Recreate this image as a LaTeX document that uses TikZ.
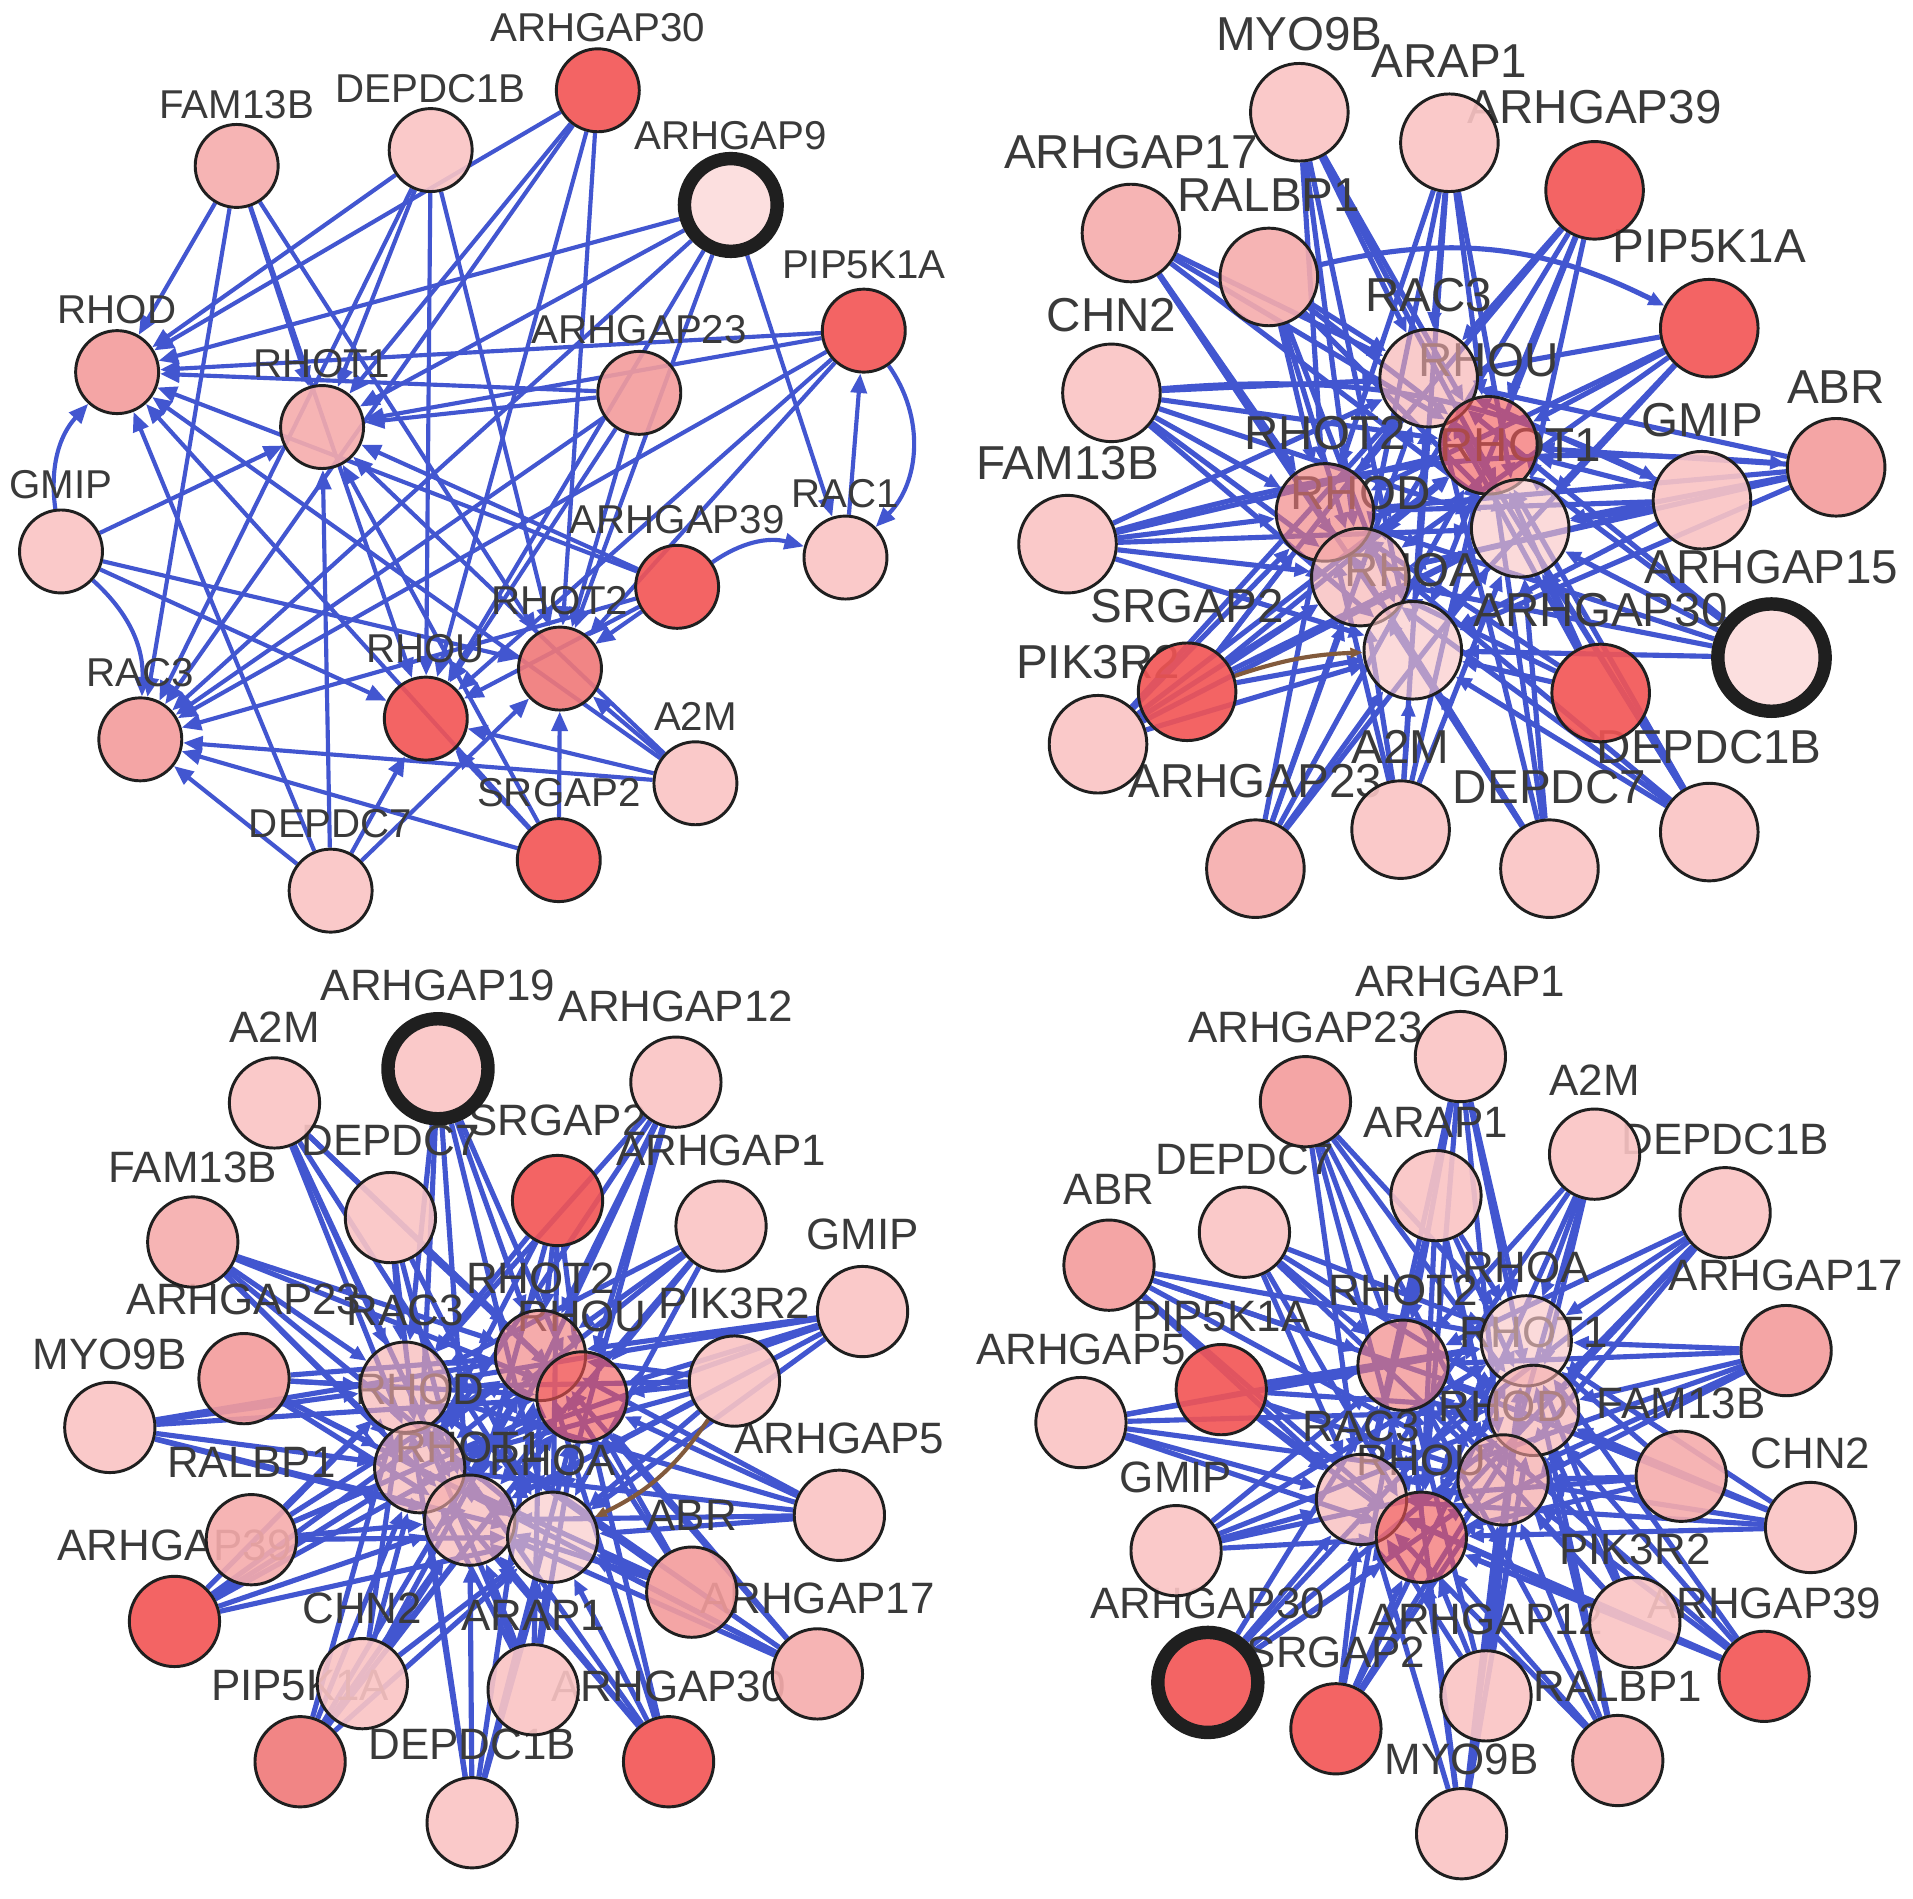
\documentclass[tikz,border=0pt]{standalone}
\usepackage{fontspec}
\setmainfont{Liberation Sans}
\usetikzlibrary{arrows.meta}
\pgfdeclarelayer{bg}
\pgfdeclarelayer{edges}
\pgfdeclarelayer{labels}
\pgfsetlayers{bg,edges,labels,main}
\definecolor{edgeblue}{RGB}{66,86,208}
\definecolor{lp}{RGB}{250,196,196}
\definecolor{vlp}{RGB}{252,220,220}
\definecolor{mp}{RGB}{246,172,172}
\definecolor{mpp}{RGB}{243,156,156}
\definecolor{rd}{RGB}{242,84,84}
\definecolor{rdd}{RGB}{240,120,120}
\definecolor{lblgray}{RGB}{58,58,58}
\definecolor{brownedge}{RGB}{130,90,60}
\newcommand{\gn}[7][]{%
 \node[gnode,fill=#5,#1] (#2) at (#3,#4) {};%
 \begin{pgfonlayer}{labels}\node[glabel] (#2-l) at (#3,#4-#7) {#6};\end{pgfonlayer}}
\tikzset{
 gnode/.style={circle,draw=black!88,line width=2.4pt,inner sep=0pt,minimum size=\nsz,fill opacity=0.9},
 hub/.style={fill opacity=0.62},
 ring/.style={line width=11pt,minimum size=\nsz+8pt},
 glabel/.style={inner sep=0pt,text=lblgray,font=\fontsize{\lfs}{\lfs}\selectfont},
 e1/.style={draw=edgeblue,line width=3.4pt,-{Triangle[length=16pt,width=13pt]}},
 e2/.style={draw=edgeblue,line width=4.2pt,-{Triangle[length=13pt,width=11pt]}},
 be/.style={draw=brownedge,line width=3.4pt,-{Triangle[length=10pt,width=8pt]}},
}
\begin{document}
\begin{tikzpicture}[x=1pt,y=-1pt]
\begin{pgfonlayer}{bg}
\fill[white] (0,0) rectangle (1568,1556);
\end{pgfonlayer}
\useasboundingbox (0,0) rectangle (1568,1556);
% ---------------- panel 1 ----------------
\def\nsz{68pt}\def\lfs{33}
\gn{a-ARHGAP30}{490}{74}{rd}{ARHGAP30}{51}
\gn{a-FAM13B}{194}{136}{mp}{FAM13B}{50}
\gn{a-DEPDC1B}{353}{123}{lp}{DEPDC1B}{50}
\gn[ring]{a-ARHGAP9}{599}{168}{vlp}{ARHGAP9}{57}
\gn{a-PIP5K1A}{708}{271}{rd}{PIP5K1A}{54}
\gn{a-RHOD}{96}{305}{mpp}{RHOD}{51}
\gn{a-RHOT1}{264}{350}{mp}{RHOT1}{52}
\gn{a-ARHGAP23}{524}{322}{mpp}{ARHGAP23}{52}
\gn{a-GMIP}{50}{452}{lp}{GMIP}{55}
\gn{a-RAC1}{693}{457}{lp}{RAC1}{52}
\gn{a-ARHGAP39}{555}{481}{rd}{ARHGAP39}{55}
\gn{a-RHOT2}{459}{548}{rdd}{RHOT2}{56}
\gn{a-RHOU}{349}{589}{rd}{RHOU}{57}
\gn{a-RAC3}{115}{606}{mpp}{RAC3}{55}
\gn{a-A2M}{570}{642}{lp}{A2M}{55}
\gn{a-SRGAP2}{458}{705}{rd}{SRGAP2}{55}
\gn{a-DEPDC7}{271}{730}{lp}{DEPDC7}{55}
\begin{pgfonlayer}{edges}
\foreach \s in {a-ARHGAP30,a-FAM13B,a-DEPDC1B,a-ARHGAP9,a-PIP5K1A,a-ARHGAP23,a-ARHGAP39,a-A2M,a-SRGAP2,a-DEPDC7}
 \foreach \t in {a-RHOD,a-RHOT1,a-RAC3,a-RHOU,a-RHOT2}
  {\draw[e1] (\s) -- (\t);}
\foreach \t in {a-RHOT1,a-RHOU,a-RHOT2}{\draw[e1] (a-GMIP) -- (\t);}
\draw[e1] (a-GMIP) to[bend left=25] (a-RHOD);
\draw[e1] (a-GMIP) to[bend left=25] (a-RAC3);
\draw[e1] (a-ARHGAP39) to[bend left=25] (a-RAC1);
\draw[e1] (a-ARHGAP9) -- (a-RAC1);
\draw[e1] (a-RAC1) -- (a-PIP5K1A);
\draw[e1] (a-PIP5K1A) to[bend left=40] (a-RAC1);
\end{pgfonlayer}
% ---------------- panel 2 ----------------
\def\nsz{80pt}\def\lfs{39}
\gn{b-MYO9B}{1065}{92}{lp}{MYO9B}{64}
\gn{b-ARAP1}{1188}{117}{lp}{ARAP1}{67}
\gn{b-ARHGAP39}{1307}{156}{rd}{ARHGAP39}{68}
\gn{b-ARHGAP17}{927}{191}{mp}{ARHGAP17}{66}
\gn{b-RALBP1}{1040}{227}{mp}{RALBP1}{67}
\gn{b-PIP5K1A}{1401}{269}{rd}{PIP5K1A}{67}
\gn{b-CHN2}{911}{322}{lp}{CHN2}{64}
\gn{b-GMIP}{1395}{410}{lp}{GMIP}{66}
\gn{b-ABR}{1505}{383}{mpp}{ABR}{66}
\gn{b-FAM13B}{875}{446}{lp}{FAM13B}{66}
\gn{b-SRGAP2}{973}{567}{rd}{SRGAP2}{70}
\gn{b-PIK3R2}{900}{610}{lp}{PIK3R2}{67}
\gn{b-ARHGAP30}{1312}{568}{rd}{ARHGAP30}{68}
\gn[ring]{b-ARHGAP15}{1452}{539}{vlp}{ARHGAP15}{74}
\gn{b-DEPDC1B}{1401}{682}{lp}{DEPDC1B}{70}
\gn{b-A2M}{1148}{680}{lp}{A2M}{68}
\gn{b-DEPDC7}{1270}{712}{lp}{DEPDC7}{67}
\gn{b-ARHGAP23}{1029}{712}{mp}{ARHGAP23}{72}
\gn[hub]{b-RAC3}{1171}{310}{mp}{RAC3}{68}
\gn[hub]{b-RHOU}{1220}{365}{rd}{RHOU}{70}
\gn[hub]{b-RHOT1}{1246}{433}{lp}{RHOT1}{68}
\gn[hub]{b-RHOT2}{1086}{420}{rdd}{RHOT2}{65}
\gn[hub]{b-RHOD}{1115}{473}{mp}{RHOD}{69}
\gn[hub]{b-RHOA}{1158}{533}{lp}{RHOA}{66}
\begin{pgfonlayer}{edges}
\foreach \s in {b-MYO9B,b-ARAP1,b-ARHGAP39,b-ARHGAP17,b-RALBP1,b-PIP5K1A,b-CHN2,b-GMIP,b-ABR,b-FAM13B,b-SRGAP2,b-PIK3R2,b-ARHGAP30,b-ARHGAP15,b-DEPDC1B,b-A2M,b-DEPDC7,b-ARHGAP23}
 \foreach \t in {b-RAC3,b-RHOU,b-RHOT1,b-RHOT2,b-RHOD,b-RHOA}
  {\draw[e2] (\s) -- (\t);}
\draw[e2] (b-CHN2) to[bend left=15] (b-GMIP);
\draw[e2] (b-FAM13B) to[bend left=10] (b-ABR);
\draw[e2] (b-RALBP1) to[bend left=20] (b-PIP5K1A);
\draw[be] (b-SRGAP2) to[bend left=8] (b-RHOA);
\end{pgfonlayer}
% ---------------- panel 3 ----------------
\def\nsz{74pt}\def\lfs{36}
\gn{c-A2M}{225}{904}{lp}{A2M}{62}
\gn[ring]{c-ARHGAP19}{359}{876}{lp}{ARHGAP19}{68}
\gn{c-ARHGAP12}{554}{887}{lp}{ARHGAP12}{62}
\gn{c-FAM13B}{158}{1018}{mp}{FAM13B}{61}
\gn{c-DEPDC7}{320}{998}{lp}{DEPDC7}{63}
\gn{c-SRGAP2}{457}{984}{rd}{SRGAP2}{66}
\gn{c-ARHGAP1}{591}{1005}{lp}{ARHGAP1}{62}
\gn{c-GMIP}{707}{1075}{lp}{GMIP}{63}
\gn{c-ARHGAP23}{200}{1130}{mpp}{ARHGAP23}{65}
\gn{c-MYO9B}{90}{1170}{lp}{MYO9B}{60}
\gn{c-PIK3R2}{602}{1132}{lp}{PIK3R2}{64}
\gn{c-RALBP1}{206}{1262}{mp}{RALBP1}{63}
\gn{c-ARHGAP5}{688}{1242}{lp}{ARHGAP5}{63}
\gn{c-ABR}{567}{1305}{mpp}{ABR}{63}
\gn{c-ARHGAP39}{143}{1329}{rd}{ARHGAP39}{62}
\gn{c-ARHGAP17}{670}{1372}{mp}{ARHGAP17}{62}
\gn{c-CHN2}{297}{1380}{lp}{CHN2}{62}
\gn{c-ARAP1}{437}{1385}{lp}{ARAP1}{61}
\gn{c-PIP5K1A}{246}{1444}{rdd}{PIP5K1A}{62}
\gn{c-ARHGAP30}{548}{1444}{rd}{ARHGAP30}{62}
\gn{c-DEPDC1B}{387}{1494}{lp}{DEPDC1B}{64}
\gn[hub]{c-RAC3}{332}{1137}{mp}{RAC3}{63}
\gn[hub]{c-RHOT2}{443}{1111}{rdd}{RHOT2}{63}
\gn[hub]{c-RHOU}{477}{1145}{rd}{RHOU}{66}
\gn[hub]{c-RHOD}{344}{1203}{mp}{RHOD}{64}
\gn[hub]{c-RHOT1}{385}{1246}{mp}{RHOT1}{60}
\gn[hub]{c-RHOA}{453}{1260}{lp}{RHOA}{63}
\begin{pgfonlayer}{edges}
\foreach \s in {c-A2M,c-ARHGAP19,c-ARHGAP12,c-FAM13B,c-DEPDC7,c-SRGAP2,c-ARHGAP1,c-GMIP,c-ARHGAP23,c-MYO9B,c-PIK3R2,c-RALBP1,c-ARHGAP5,c-ABR,c-ARHGAP39,c-ARHGAP17,c-CHN2,c-ARAP1,c-PIP5K1A,c-ARHGAP30,c-DEPDC1B}
 \foreach \t in {c-RAC3,c-RHOT2,c-RHOU,c-RHOD,c-RHOT1,c-RHOA}
  {\draw[e2] (\s) -- (\t);}
\draw[be] (c-PIK3R2) to[bend left=15] (c-RHOA);
\end{pgfonlayer}
% ---------------- panel 4 ----------------
\def\nsz{74pt}\def\lfs{36}
\gn{d-ARHGAP1}{1197}{866}{lp}{ARHGAP1}{62}
\gn{d-ARHGAP23}{1070}{903}{mpp}{ARHGAP23}{61}
\gn{d-A2M}{1307}{946}{lp}{A2M}{61}
\gn{d-ARAP1}{1177}{980}{lp}{ARAP1}{60}
\gn{d-DEPDC1B}{1414}{994}{lp}{DEPDC1B}{60}
\gn{d-DEPDC7}{1020}{1010}{lp}{DEPDC7}{60}
\gn{d-ABR}{909}{1037}{mpp}{ABR}{62}
\gn{d-ARHGAP17}{1464}{1107}{mpp}{ARHGAP17}{62}
\gn{d-PIP5K1A}{1001}{1139}{rd}{PIP5K1A}{60}
\gn{d-ARHGAP5}{886}{1166}{lp}{ARHGAP5}{60}
\gn{d-FAM13B}{1378}{1210}{mp}{FAM13B}{60}
\gn{d-CHN2}{1484}{1252}{lp}{CHN2}{61}
\gn{d-GMIP}{964}{1271}{lp}{GMIP}{60}
\gn{d-PIK3R2}{1340}{1330}{lp}{PIK3R2}{60}
\gn[ring]{d-ARHGAP30}{990}{1379}{rd}{ARHGAP30}{65}
\gn{d-ARHGAP12}{1218}{1390}{lp}{ARHGAP12}{63}
\gn{d-ARHGAP39}{1446}{1374}{rd}{ARHGAP39}{60}
\gn{d-SRGAP2}{1095}{1417}{rd}{SRGAP2}{63}
\gn{d-RALBP1}{1326}{1443}{mp}{RALBP1}{61}
\gn{d-MYO9B}{1198}{1503}{lp}{MYO9B}{61}
\gn[hub]{d-RHOA}{1251}{1099}{lp}{RHOA}{60}
\gn[hub]{d-RHOT2}{1150}{1119}{rdd}{RHOT2}{61}
\gn[hub]{d-RHOT1}{1257}{1156}{mp}{RHOT1}{64}
\gn[hub]{d-RHOD}{1232}{1213}{mpp}{RHOD}{60}
\gn[hub]{d-RAC3}{1116}{1229}{mp}{RAC3}{60}
\gn[hub]{d-RHOU}{1165}{1260}{rd}{RHOU}{63}
\begin{pgfonlayer}{edges}
\foreach \s in {d-ARHGAP1,d-ARHGAP23,d-A2M,d-ARAP1,d-DEPDC1B,d-DEPDC7,d-ABR,d-ARHGAP17,d-PIP5K1A,d-ARHGAP5,d-FAM13B,d-CHN2,d-GMIP,d-PIK3R2,d-ARHGAP30,d-ARHGAP12,d-ARHGAP39,d-SRGAP2,d-RALBP1,d-MYO9B}
 \foreach \t in {d-RHOA,d-RHOT2,d-RHOT1,d-RHOD,d-RAC3,d-RHOU}
  {\draw[e2] (\s) -- (\t);}
\end{pgfonlayer}
\end{tikzpicture}
\end{document}
